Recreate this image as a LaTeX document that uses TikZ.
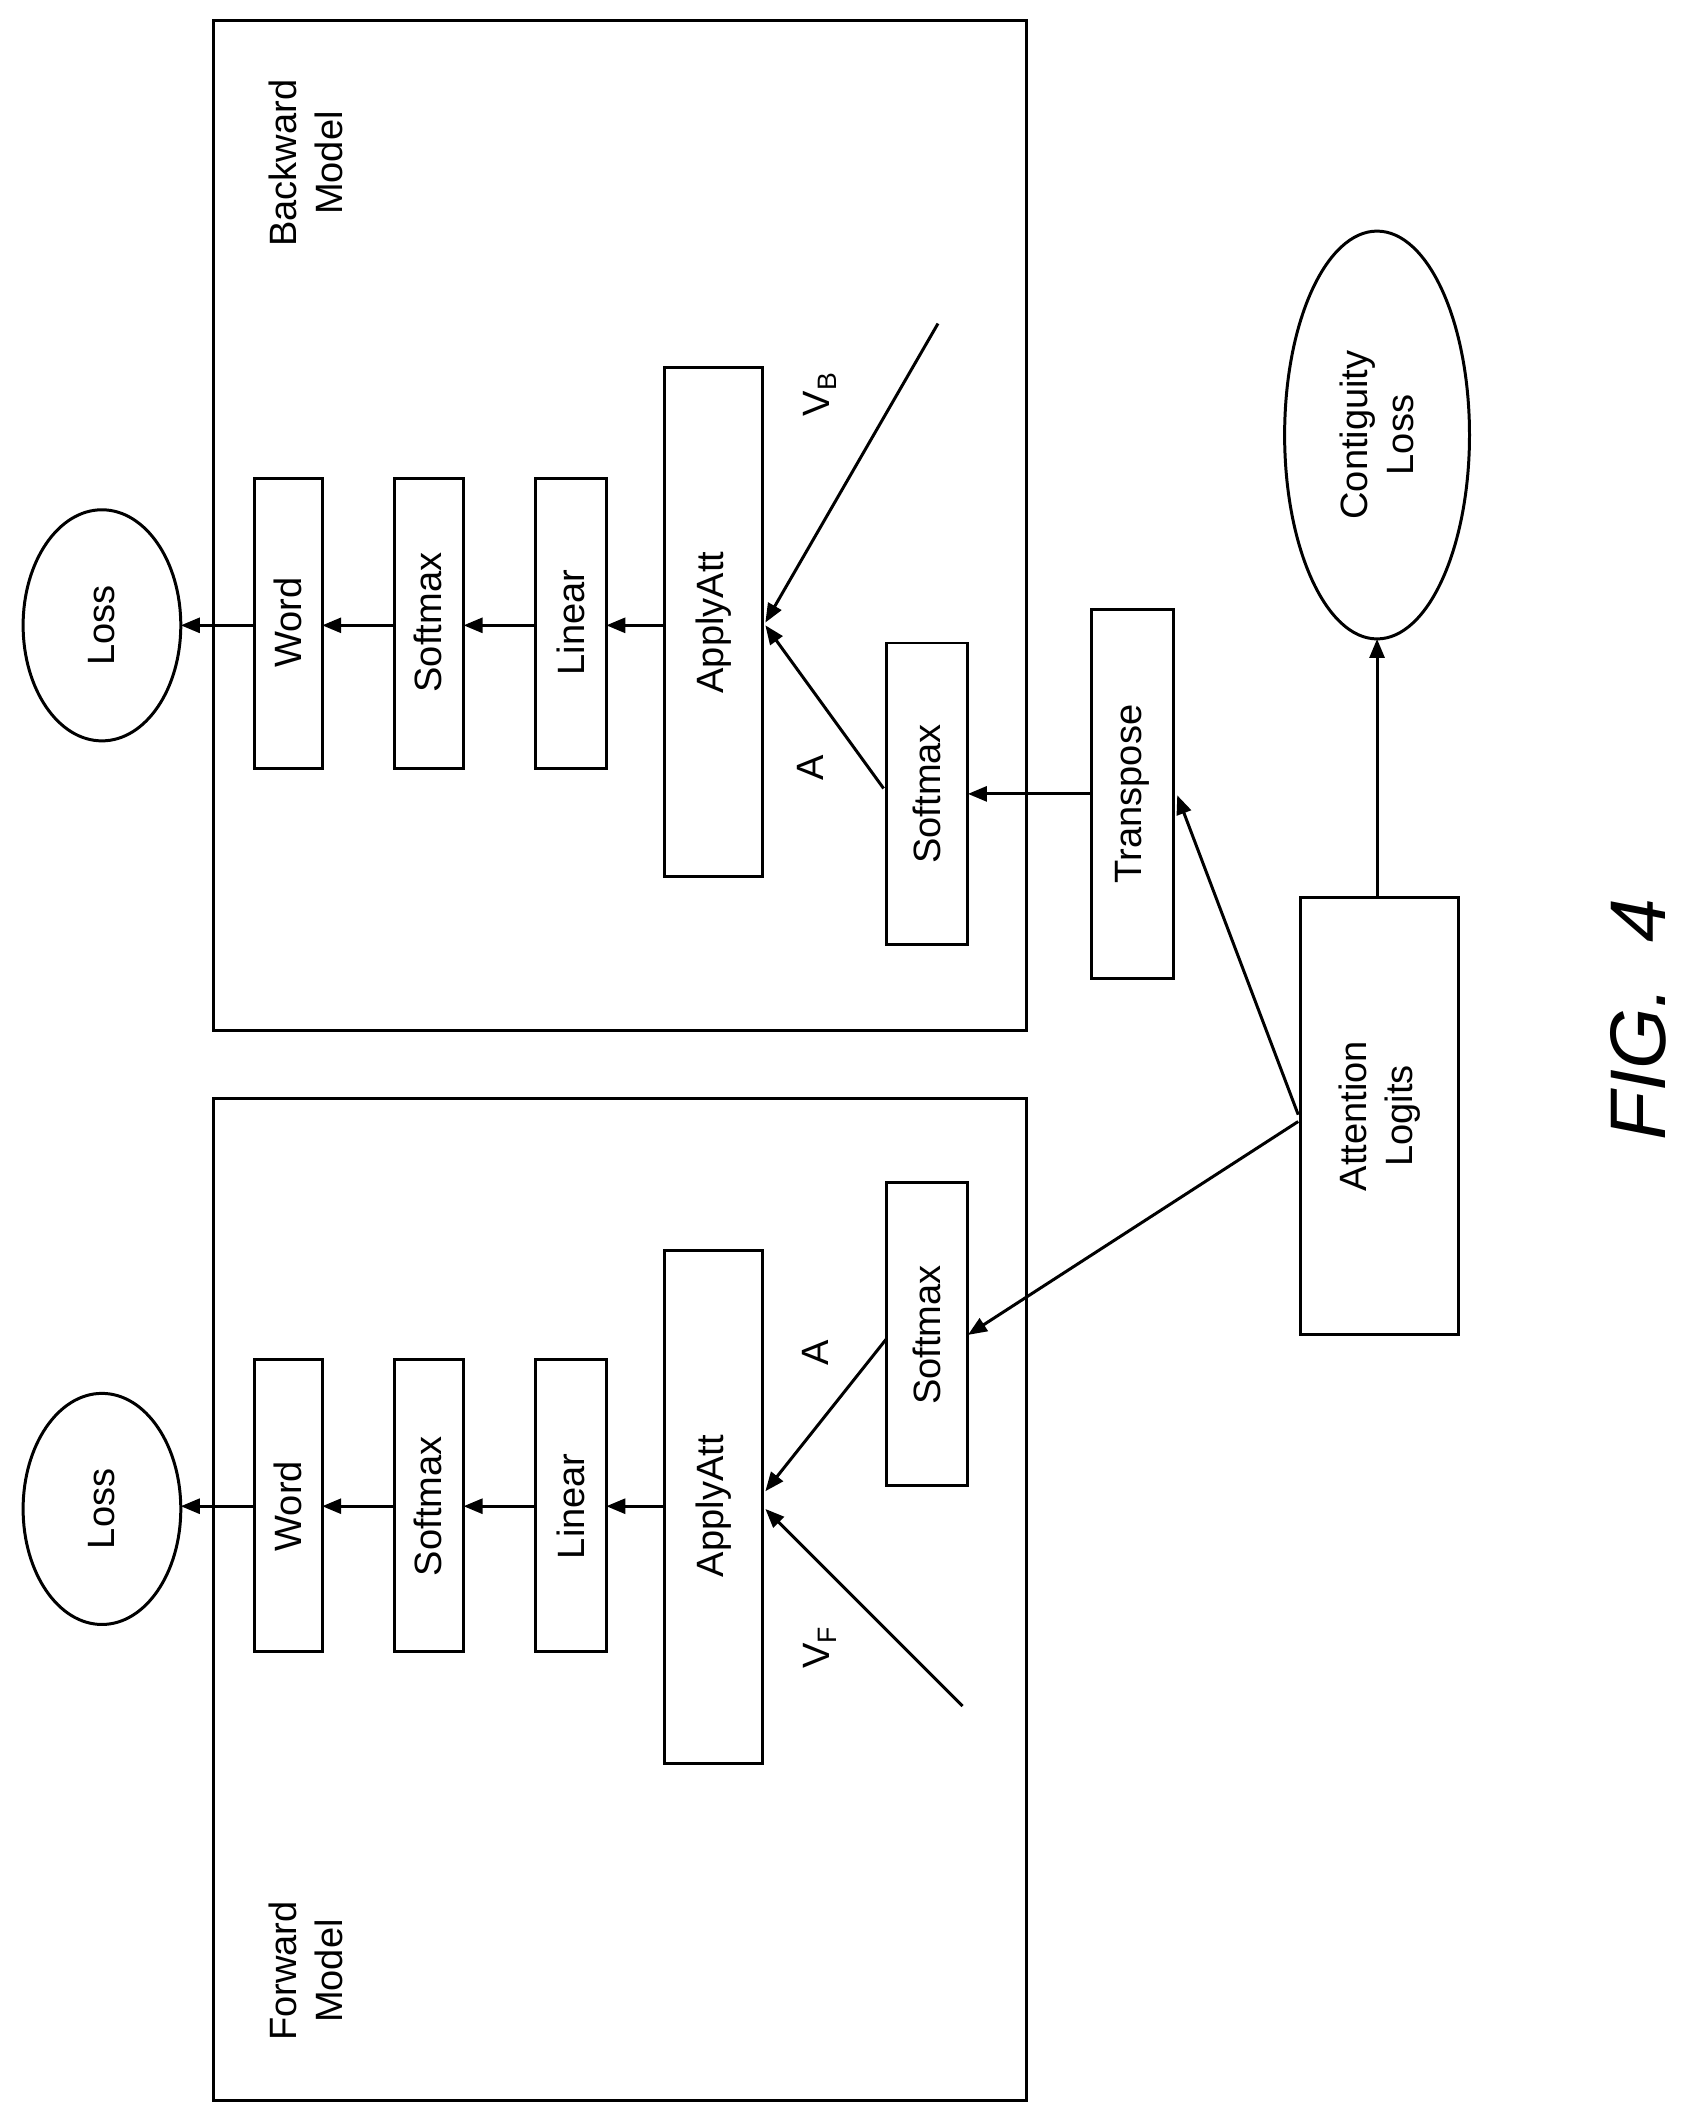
\documentclass[tikz,border=0pt]{standalone}
\usepackage{fontspec}
\setmainfont{Liberation Sans}
\usetikzlibrary{arrows.meta}
\begin{document}
\begin{tikzpicture}[x=1pt,y=-1pt,line width=2.2pt,
 box/.style={draw},
 txt/.style={rotate=90,font=\fontsize{28}{34}\selectfont,align=center},
 arr/.style={-{Triangle[length=14pt,width=11pt]}}]
\useasboundingbox (0,0) rectangle (1240,1561);
% model boxes
\draw (157,15) rectangle (755,758);
\draw (157,808) rectangle (755,1545);
\node[txt] (bl) at (225,120) {Backward\\Model};
\node[txt] (fl) at (225,1450) {Forward\\Model};
% top (backward)
\draw (75,460) ellipse (58 and 85); \node[txt] (lossT) at (75,460) {Loss};
\coordinate (lossTe) at (133,460);
\draw (187,352) rectangle (237,565); \node[txt] (wordT) at (212,458) {Word};
\draw (290,352) rectangle (341,565); \node[txt] (smT) at (315,458) {Softmax};
\draw (394,352) rectangle (446,565); \node[txt] (linT) at (420,458) {Linear};
\draw (489,270) rectangle (561,645); \node[txt] (aaT) at (525,458) {ApplyAtt};
\draw (652,473) rectangle (712,695); \node[txt] (sm2T) at (682,584) {Softmax};
\draw (803,448) rectangle (863,720); \node[txt] (tr) at (833,584) {Transpose};
\draw (957,660) rectangle (1073,982); \node[txt] (al) at (1015,821) {Attention\\Logits};
\draw (1013,320) ellipse (68 and 150); \node[txt] (cl) at (1013,320) {Contiguity\\Loss};
\draw[arr] (187,460) -- (133,460);
\draw[arr] (290,460) -- (237,460);
\draw[arr] (394,460) -- (341,460);
\draw[arr] (489,460) -- (446,460);
\draw[arr] (650,580) -- (563,460);
\draw[arr] (690,238) -- (563,458);
\node[txt] at (596,565) {A};
\node[txt] at (603,290) {V\textsubscript{B}};
\draw[arr] (803,584) -- (712,584);
\draw[arr] (955,820) -- (866,585);
\draw[arr] (1013,660) -- (1013,470);
\draw[arr] (955,825) -- (712,982);
% bottom (forward)
\draw (75,1110) ellipse (58 and 85); \node[txt] (lossB) at (75,1110) {Loss};
\draw (187,1000) rectangle (237,1215); \node[txt] (wordB) at (212,1108) {Word};
\draw (290,1000) rectangle (341,1215); \node[txt] (smB) at (315,1108) {Softmax};
\draw (394,1000) rectangle (446,1215); \node[txt] (linB) at (420,1108) {Linear};
\draw (489,920) rectangle (561,1297); \node[txt] (aaB) at (525,1108) {ApplyAtt};
\draw (652,870) rectangle (712,1093); \node[txt] (sm2B) at (682,982) {Softmax};
\draw[arr] (187,1108) -- (133,1108);
\draw[arr] (290,1108) -- (237,1108);
\draw[arr] (394,1108) -- (341,1108);
\draw[arr] (489,1108) -- (446,1108);
\draw[arr] (652,985) -- (563,1097);
\draw[arr] (708,1255) -- (563,1110);
\node[txt] at (600,995) {A};
\node[txt] at (603,1212) {V\textsubscript{F}};
\node[rotate=90,font=\fontsize{58}{66}\selectfont\itshape] (fig) at (1205,750) {FIG.~~4};
\end{tikzpicture}
\end{document}
